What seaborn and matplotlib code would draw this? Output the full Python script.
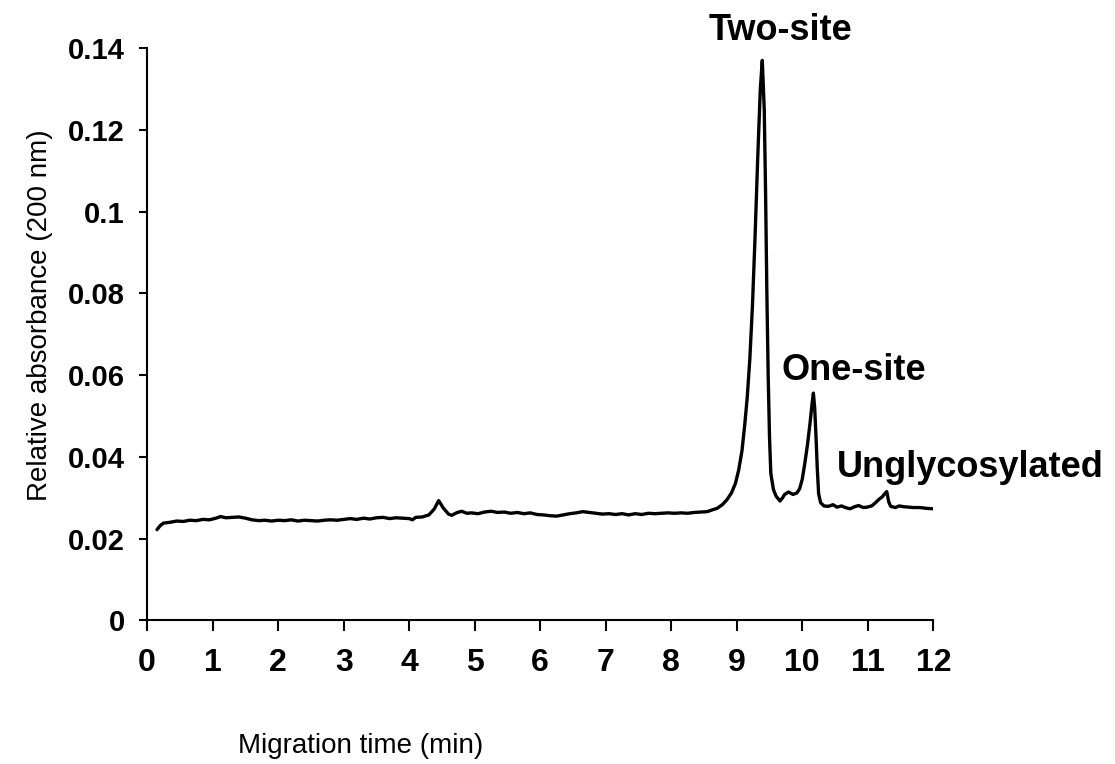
import matplotlib
matplotlib.use("Agg")
import matplotlib.pyplot as plt
import seaborn as sns
import pandas as pd

# Electropherogram trace (migration time in min, relative absorbance at 200 nm)
time_min = [
    0.15, 0.20, 0.25, 0.35, 0.45, 0.55, 0.65, 0.75, 0.85, 0.95,
    1.05, 1.12, 1.20, 1.30, 1.40, 1.50, 1.60, 1.70, 1.80, 1.90,
    2.00, 2.10, 2.20, 2.30, 2.40, 2.50, 2.60, 2.70, 2.80, 2.90,
    3.00, 3.10, 3.20, 3.30, 3.40, 3.50, 3.60, 3.70, 3.80, 3.90,
    4.00, 4.05, 4.10, 4.20, 4.30, 4.38, 4.45, 4.52, 4.60, 4.65,
    4.72, 4.80, 4.88, 4.95, 5.05, 5.15, 5.25, 5.35, 5.45, 5.55,
    5.65, 5.75, 5.85, 5.95, 6.05, 6.15, 6.25, 6.35, 6.45, 6.55,
    6.65, 6.75, 6.85, 6.95, 7.05, 7.15, 7.25, 7.35, 7.45, 7.55,
    7.65, 7.75, 7.85, 7.95, 8.05, 8.15, 8.25, 8.35, 8.45, 8.55,
    8.62, 8.70, 8.78, 8.85, 8.92, 8.98, 9.03, 9.08, 9.12, 9.16,
    9.20, 9.24, 9.28, 9.32, 9.36, 9.39, 9.42, 9.44, 9.46, 9.48,
    9.50, 9.52, 9.56, 9.60, 9.66, 9.70, 9.73, 9.79, 9.86, 9.92,
    9.96, 10.00, 10.04, 10.08, 10.12, 10.15, 10.17, 10.19, 10.21, 10.23,
    10.25, 10.28, 10.33, 10.40, 10.47, 10.53, 10.60, 10.66, 10.73, 10.80,
    10.86, 10.93, 10.99, 11.06, 11.12, 11.17, 11.22, 11.26, 11.29, 11.32,
    11.35, 11.42, 11.48, 11.55, 11.62, 11.70, 11.80, 11.90, 12.00,
]
absorbance = [
    0.0222, 0.0232, 0.0238, 0.0240, 0.0243, 0.0242, 0.0245, 0.0244, 0.0247, 0.0246,
    0.0250, 0.0254, 0.0251, 0.0252, 0.0253, 0.0250, 0.0246, 0.0244, 0.0245, 0.0243,
    0.0245, 0.0244, 0.0246, 0.0243, 0.0245, 0.0244, 0.0243, 0.0245, 0.0246, 0.0245,
    0.0247, 0.0249, 0.0247, 0.0250, 0.0248, 0.0251, 0.0252, 0.0249, 0.0251, 0.0250,
    0.0249, 0.0246, 0.0252, 0.0253, 0.0258, 0.0272, 0.0293, 0.0275, 0.0260, 0.0257,
    0.0263, 0.0267, 0.0262, 0.0263, 0.0261, 0.0265, 0.0267, 0.0264, 0.0265, 0.0262,
    0.0264, 0.0261, 0.0263, 0.0259, 0.0258, 0.0256, 0.0255, 0.0258, 0.0261, 0.0263,
    0.0266, 0.0264, 0.0262, 0.0260, 0.0261, 0.0259, 0.0261, 0.0258, 0.0261, 0.0259,
    0.0262, 0.0261, 0.0262, 0.0263, 0.0262, 0.0263, 0.0262, 0.0264, 0.0265, 0.0266,
    0.0270, 0.0274, 0.0283, 0.0295, 0.0312, 0.0335, 0.0368, 0.0415, 0.0475, 0.0545,
    0.0640, 0.0770, 0.0940, 0.1130, 0.1300, 0.1370, 0.1250, 0.1050, 0.0800, 0.0600,
    0.0450, 0.0360, 0.0320, 0.0304, 0.0292, 0.0300, 0.0308, 0.0314, 0.0308, 0.0312,
    0.0322, 0.0345, 0.0385, 0.0430, 0.0484, 0.0530, 0.0556, 0.0520, 0.0450, 0.0370,
    0.0310, 0.0288, 0.0280, 0.0279, 0.0283, 0.0277, 0.0280, 0.0276, 0.0273, 0.0278,
    0.0281, 0.0276, 0.0277, 0.0280, 0.0288, 0.0296, 0.0302, 0.0310, 0.0315, 0.0290,
    0.0279, 0.0276, 0.0280, 0.0278, 0.0277, 0.0276, 0.0276, 0.0274, 0.0273,
]

x_ticks = list(range(0, 13))
y_ticks = [0, 0.02, 0.04, 0.06, 0.08, 0.1, 0.12, 0.14]
y_tick_labels = ["0", "0.02", "0.04", "0.06", "0.08", "0.1", "0.12", "0.14"]

peak_labels = ["Two-site", "One-site", "Unglycosylated"]
peak_label_x = [9.67, 10.79, 12.56]
peak_label_y = [0.1444, 0.0612, 0.0374]

sns.set_style("ticks")
plt.rcParams["font.family"] = ["Liberation Sans", "DejaVu Sans"]
plt.rcParams["text.color"] = "black"
plt.rcParams["axes.labelcolor"] = "black"

df = pd.DataFrame({"time": time_min, "abs": absorbance})

fig = plt.figure(figsize=(11.15, 7.64), dpi=100)
ax = fig.add_axes([0.132, 0.188, 0.705, 0.749])

sns.lineplot(data=df, x="time", y="abs", color="black", linewidth=2.4, ax=ax)

ax.set_xlim(0, 12)
ax.set_ylim(0, 0.14)
ax.set_xticks(x_ticks)
ax.set_xticklabels([str(t) for t in x_ticks], fontweight="bold", fontsize=23)
ax.set_yticks(y_ticks)
ax.set_yticklabels(y_tick_labels, fontweight="bold", fontsize=21)

ax.tick_params(axis="both", direction="out", width=1.5, colors="black")
ax.tick_params(axis="y", length=6, pad=10)
ax.tick_params(axis="x", length=8, pad=12)

for side in ["top", "right"]:
    ax.spines[side].set_visible(False)
for side in ["left", "bottom"]:
    ax.spines[side].set_linewidth(1.5)
    ax.spines[side].set_color("black")

ax.set_xlabel("Migration time (min)", fontsize=20, va="center", ha="center")
ax.set_ylabel("Relative absorbance (200 nm)", fontsize=20, va="center", ha="center")
ax.xaxis.set_label_coords(0.271, -0.219)
ax.yaxis.set_label_coords(-0.136, 0.533)

for txt, tx, ty in zip(peak_labels, peak_label_x, peak_label_y):
    ax.text(tx, ty, txt, ha="center", va="center", fontsize=26,
            fontweight="bold", color="black", clip_on=False)

fig.savefig("out.png", dpi=100, facecolor="white")
